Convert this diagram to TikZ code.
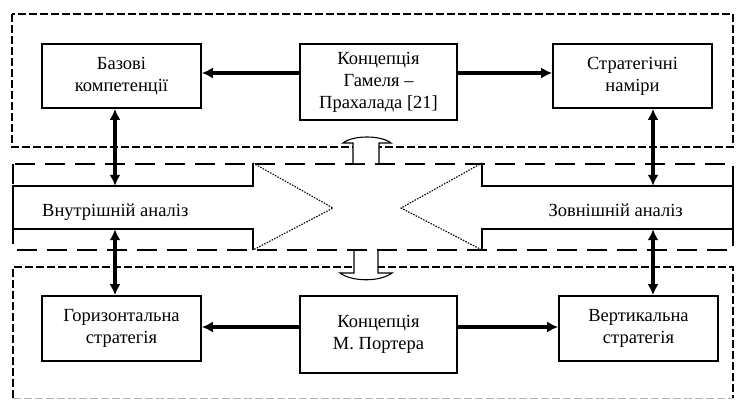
\documentclass[tikz,border=0pt]{standalone}
\usepackage{fontspec}
\setmainfont{Liberation Serif}
\usetikzlibrary{arrows.meta}
\begin{document}
\begin{tikzpicture}[x=1pt,y=-1pt,
  txt/.style={font=\fontsize{18.5}{22}\selectfont},
  blockbox/.style={draw, line width=1.7pt, inner sep=0pt, align=center, txt},
  arr/.style={line width=3.2pt, -{Latex[length=11pt,width=11pt]}},
  darr/.style={line width=3.2pt, {Latex[length=11pt,width=11pt]}-{Latex[length=11pt,width=11pt]}},
  shortdash/.style={line width=2.6pt, dash pattern=on 8pt off 3pt},
  longdash/.style={line width=2.8pt, dash pattern=on 20pt off 10pt},
  thinline/.style={line width=1.2pt},
  dotline/.style={line width=1.1pt, dash pattern=on 1.5pt off 1.3pt},
  uarrow/.style={line width=1.1pt, fill=white}
]
\useasboundingbox (0,0) rectangle (741,400);
\fill[white] (0,0) rectangle (741,400);

% dashed frames
\draw[shortdash] (12,14) rectangle (733,147);
\draw[longdash] (13,164) rectangle (733,250);
\draw[shortdash] (13,398) -- (13,267) -- (733,267) -- (733,398);
\draw[line width=1.2pt, gray!60, dash pattern=on 8pt off 3pt] (13,398.5) -- (733,398.5);

% wide arrows
\draw[thinline] (253,163) -- (253,186) -- (13,186) -- (13,229) -- (253,229) -- (253,250);
\draw[dotline] (253,163) -- (333,208) -- (253,250);
\draw[thinline] (482,163) -- (482,186) -- (733,186) -- (733,229) -- (482,229) -- (482,250);
\draw[dotline] (482,163) -- (401,208) -- (482,250);

\node[inner sep=0pt, minimum width=240pt, minimum height=43pt] (inner) at (133,207.5) {};
\node[inner sep=0pt, minimum width=251pt, minimum height=43pt] (outer) at (607.5,207.5) {};
\node[txt, anchor=base west, inner sep=0pt] (innertxt) at (42,216) {Внутрішній аналіз};
\node[txt, anchor=base east, inner sep=0pt] (outertxt) at (683,216) {Зовнішній аналіз};

% small block arrows
\draw[uarrow] (353,163) -- (353,143) -- (343,143) .. controls (353,135) and (381,135) .. (391,143) -- (379,143) -- (379,163);
\draw[uarrow] (354,251) -- (354,273) -- (340,273) .. controls (352,282) and (380,282) .. (392,273) -- (378,273) -- (378,251);

% boxes
\node[blockbox, minimum width=159pt, minimum height=64pt] (baz) at (121.5,76) {Базові\\компетенції};
\node[blockbox, minimum width=157pt, minimum height=76pt] (gam) at (378.5,82) {Концепція\\Гамеля –\\Прахалада [21]};
\node[blockbox, minimum width=159pt, minimum height=64pt] (str) at (632.5,76) {Стратегічні\\наміри};
\node[blockbox, minimum width=159pt, minimum height=65pt] (hor) at (121.5,328.5) {Горизонтальна\\стратегія};
\node[blockbox, minimum width=157pt, minimum height=77pt] (por) at (378.5,334.5) {Концепція\\М. Портера};
\node[blockbox, minimum width=159pt, minimum height=65pt] (ver) at (638.5,328.5) {Вертикальна\\стратегія};

% helper coordinates
\coordinate (rowT) at (0,73);
\coordinate (rowB) at (0,327);
\coordinate (colL) at (115,0);
\coordinate (colR) at (653,0);

% connectors
\draw[arr] (gam.west |- rowT) -- (baz.east |- rowT);
\draw[arr] (gam.east |- rowT) -- (str.west |- rowT);
\draw[arr] (por.west |- rowB) -- (hor.east |- rowB);
\draw[arr] (por.east |- rowB) -- (ver.west |- rowB);

\draw[darr] (baz.south -| colL) -- (inner.north -| colL);
\draw[darr] (inner.south -| colL) -- (hor.north -| colL);
\draw[darr] (str.south -| colR) -- (outer.north -| colR);
\draw[darr] (outer.south -| colR) -- (ver.north -| colR);
\end{tikzpicture}
\end{document}
